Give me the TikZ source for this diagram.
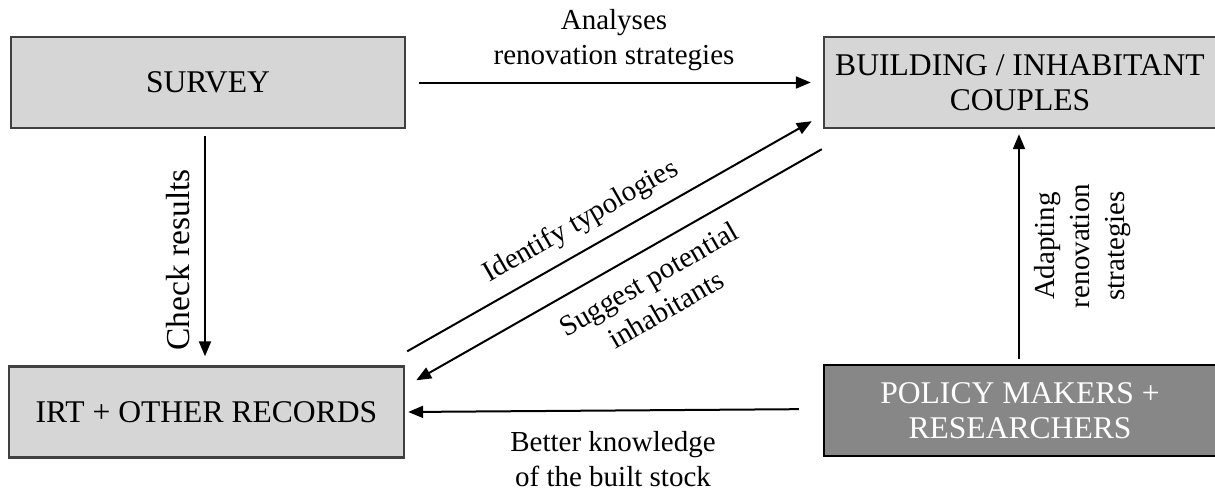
\documentclass[tikz,border=0pt]{standalone}
\usepackage{fontspec}
\setmainfont{Liberation Serif}
\usetikzlibrary{arrows.meta,calc}
\begin{document}
\begin{tikzpicture}[x=1pt,y=-1pt,
  box/.style={draw=black!75,line width=2.4pt,fill=black!16,inner sep=0pt,
    minimum height=91pt,align=center,font=\fontsize{31.6}{35}\selectfont},
  darkbox/.style={box,draw=black,fill=black!47,text=white},
  arr/.style={line width=2pt,-{Triangle[length=15pt,width=12pt]}},
  lbl/.style={inner sep=0pt,align=center,font=\fontsize{29}{35}\selectfont}]
\useasboundingbox (0,0) rectangle (1215,491);
\node[box,minimum width=394pt] (survey) at (208,82.5) {SURVEY};
\node[box,minimum width=392pt] (building) at (1020,82.5) {BUILDING / INHABITANT\\COUPLES};
\node[box,minimum width=395pt] (irt) at (206.5,412) {IRT + OTHER RECORDS};
\node[darkbox,minimum width=392pt] (policy) at (1020,410.5) {POLICY MAKERS +\\RESEARCHERS};
% connectors
\draw[arr,shorten <=13pt,shorten >=12pt] (survey) -- (building);
\draw[arr,shorten <=7pt,shorten >=9pt] ([xshift=-3pt]survey.south) -- ([xshift=-1.5pt]irt.north);
\draw[arr,shorten <=5pt,shorten >=5pt] ([xshift=-1pt]policy.north) -- ([xshift=-1pt]building.south);
\draw[arr,shorten <=24pt,shorten >=3pt] ([yshift=1.5pt]policy.west) -- (irt.east);
\coordinate (i1) at ($(irt.north east)+(2,-14)$);
\coordinate (i2) at ($(building.south west)+(-11,-8)$);
\coordinate (s1) at ($(building.south west)+(-1,20)$);
\coordinate (s2) at ($(irt.north east)+(11,15)$);
\draw[arr] (i1) -- (i2);
\draw[arr] (s1) -- (s2);
% labels
\node[lbl] (lanalyses) at (614,40) {Analyses\\renovation strategies};
\node[lbl,rotate=90,font=\fontsize{33.5}{38}\selectfont] (lcheck) at (178,260) {Check results};
\node[lbl,rotate=90] (ladapt) at (1083,246) {Adapting\\renovation\\strategies};
\node[lbl] (lbetter) at (613,459) {Better knowledge\\of the built stock};
\node[lbl,rotate=29.8] (lident) at (581,222) {Identify typologies};
\node[lbl,rotate=29.8] (lsugg) at (657,294) {Suggest potential\\inhabitants};
\end{tikzpicture}
\end{document}
